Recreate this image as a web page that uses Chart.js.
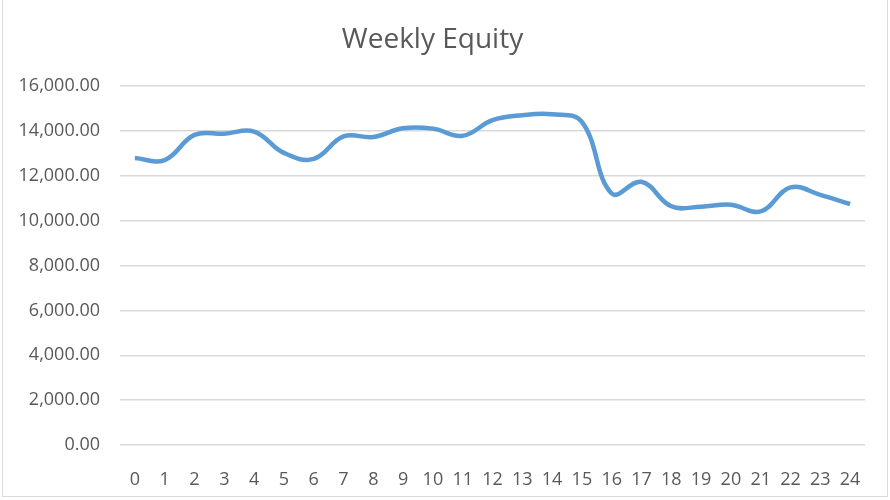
<!DOCTYPE html>
<html>
<head>
  <title>Weekly Equity</title>
  <script src="https://cdn.jsdelivr.net/npm/chart.js"></script>
  <style>
    body {
      margin: 0;
      background: #fff;
    }

    .wrap {
      position: relative;
      width: 890px;
      height: 500px;
    }

    /* bordure grise de la zone du graphique */
    .frame {
      position: absolute;
      left: 2px;
      top: -1px;
      width: 884px;
      height: 496px;
      border: 1px solid #d9d9d9;
      pointer-events: none;
    }
  </style>
</head>
<body>

  <div class="wrap">
    <canvas id="equityChart" width="890" height="500"></canvas>
    <div class="frame"></div>
  </div>

  <script>
    // Semaines (axe X)
    var weeks = ['0', '1', '2', '3', '4', '5', '6', '7', '8', '9', '10', '11', '12',
                 '13', '14', '15', '16', '17', '18', '19', '20', '21', '22', '23', '24'];

    // Capital hebdomadaire
    var equity = [12790, 12700, 13820, 13870, 13970, 13020, 12750, 13750, 13730, 14120,
                  14100, 13780, 14480, 14700, 14740, 14400, 11210, 11730, 10640, 10620,
                  10710, 10410, 11480, 11150, 10740];

    // Graduations de l'axe Y
    var yTicks = [0, 2000, 4000, 6000, 8000, 10000, 12000, 14000, 16000];

    var textColor = '#595959';

    var data = {
      labels: weeks,
      datasets: [{
        label: 'Equity',
        data: equity,
        borderColor: '#5b9bd5',
        backgroundColor: '#5b9bd5',
        borderWidth: 4.5,
        pointRadius: 0,
        tension: 0.4,
        fill: false
      }]
    };

    var options = {
      responsive: false,
      animation: false,
      layout: {
        padding: { left: 0, right: 25, top: 0, bottom: 0 }
      },
      plugins: {
        legend: { display: false },
        tooltip: { enabled: false },
        title: {
          display: true,
          text: 'Weekly Equity',
          color: textColor,
          font: { family: 'Open Sans', size: 28, weight: 'normal' },
          padding: { top: 23, bottom: 29.4 }
        }
      },
      scales: {
        x: {
          type: 'category',
          offset: true,
          grid: { display: false },
          border: { display: false },
          ticks: {
            color: textColor,
            font: { family: 'Open Sans', size: 18 },
            padding: 16,
            maxRotation: 0,
            autoSkip: false
          },
          afterFit: function(scale) {
            scale.height = 55;
          }
        },
        y: {
          min: yTicks[0],
          max: yTicks[yTicks.length - 1],
          afterBuildTicks: function(scale) {
            scale.ticks = yTicks.map(function(v) { return { value: v }; });
          },
          grid: {
            color: '#d9d9d9',
            lineWidth: 1.5,
            drawTicks: false
          },
          border: { display: false },
          ticks: {
            color: textColor,
            font: { family: 'Open Sans', size: 18 },
            padding: 20,
            callback: function(value) {
              return Number(value).toLocaleString('en-US', {
                minimumFractionDigits: 2,
                maximumFractionDigits: 2
              });
            }
          },
          afterFit: function(scale) {
            scale.width = 120;
          }
        }
      }
    };

    var ctx = document.getElementById('equityChart').getContext('2d');
    var equityChart = new Chart(ctx, {
      type: 'line',
      data: data,
      options: options
    });
  </script>

</body>
</html>
